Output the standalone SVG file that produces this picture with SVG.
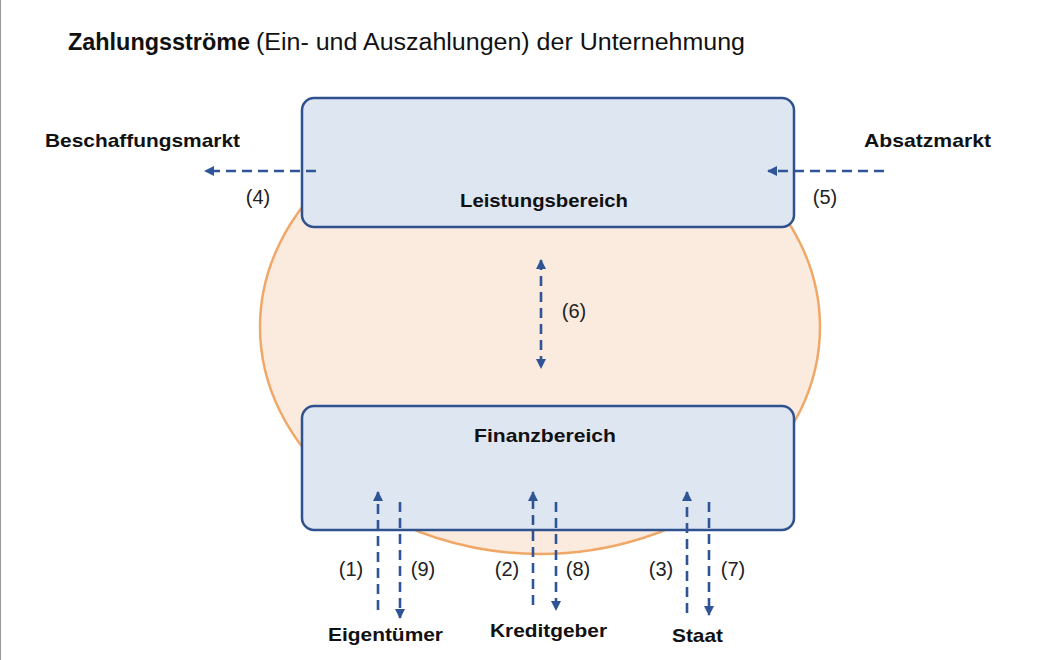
<svg xmlns="http://www.w3.org/2000/svg" width="1052" height="660" viewBox="0 0 1052 660">
<defs>
<style>
.t{font-family:"Liberation Sans",Arial,sans-serif;fill:#111}
.b{font-weight:bold;font-size:19px}
.n{font-size:20px;fill:#222}
.box{fill:#DEE6F2;stroke:#2F528F;stroke-width:2.5}
.flow{fill:none;stroke:#2F5597;stroke-width:2.6;stroke-dasharray:10 6}
</style>
<marker id="ah" viewBox="0 0 10 10" refX="9" refY="5" markerWidth="10" markerHeight="10" markerUnits="userSpaceOnUse" orient="auto-start-reverse">
<path d="M0,0 L10,5 L0,10 z" fill="#2F5597"/>
</marker>
</defs>
<rect width="1052" height="660" fill="#fff"/>
<line x1="0.5" y1="0" x2="0.5" y2="660" stroke="#999" stroke-width="1"/>
<g id="title">
<text class="t" x="68" y="50" font-size="23" font-weight="bold" textLength="182" lengthAdjust="spacingAndGlyphs">Zahlungsströme</text>
<text class="t" x="256" y="50" font-size="23" textLength="489" lengthAdjust="spacingAndGlyphs">(Ein- und Auszahlungen) der Unternehmung</text>
</g>
<g id="unternehmung">
<ellipse cx="540" cy="327" rx="280" ry="227" fill="#FBEBDF" stroke="#F0A868" stroke-width="2.5"/>
</g>
<g id="leistungsbereich">
<rect class="box" x="302" y="98" width="492" height="129" rx="12"/>
<text class="t b" x="460" y="207" textLength="168" lengthAdjust="spacingAndGlyphs">Leistungsbereich</text>
</g>
<g id="finanzbereich">
<rect class="box" x="302" y="406" width="492" height="124" rx="12"/>
<text class="t b" x="474" y="442" textLength="142" lengthAdjust="spacingAndGlyphs">Finanzbereich</text>
</g>
<g id="beschaffungsmarkt">
<text class="t b" x="45" y="147" textLength="195" lengthAdjust="spacingAndGlyphs">Beschaffungsmarkt</text>
</g>
<g id="absatzmarkt">
<text class="t b" x="864" y="147" textLength="127" lengthAdjust="spacingAndGlyphs">Absatzmarkt</text>
</g>
<g id="eigentuemer">
<text class="t b" x="328" y="641" textLength="115" lengthAdjust="spacingAndGlyphs">Eigentümer</text>
</g>
<g id="kreditgeber">
<text class="t b" x="490" y="637" textLength="117" lengthAdjust="spacingAndGlyphs">Kreditgeber</text>
</g>
<g id="staat">
<text class="t b" x="672" y="642" textLength="51" lengthAdjust="spacingAndGlyphs">Staat</text>
</g>
<g id="connectors">
<path class="flow" d="M316,171 H205" marker-end="url(#ah)"/>
<path class="flow" d="M884,171 H768" marker-end="url(#ah)"/>
<path class="flow" d="M541,260 V368" marker-start="url(#ah)" marker-end="url(#ah)"/>
<path class="flow" d="M378,610 V492" marker-end="url(#ah)"/>
<path class="flow" d="M400,502 V618" marker-end="url(#ah)"/>
<path class="flow" d="M533,605 V492" marker-end="url(#ah)"/>
<path class="flow" d="M556,502 V610" marker-end="url(#ah)"/>
<path class="flow" d="M687,613 V492" marker-end="url(#ah)"/>
<path class="flow" d="M709,502 V615" marker-end="url(#ah)"/>
<text class="t n" x="258" y="204" text-anchor="middle">(4)</text>
<text class="t n" x="825" y="204" text-anchor="middle">(5)</text>
<text class="t n" x="574" y="318" text-anchor="middle">(6)</text>
<text class="t n" x="351" y="576" text-anchor="middle">(1)</text>
<text class="t n" x="423" y="576" text-anchor="middle">(9)</text>
<text class="t n" x="507" y="576" text-anchor="middle">(2)</text>
<text class="t n" x="578" y="576" text-anchor="middle">(8)</text>
<text class="t n" x="661" y="576" text-anchor="middle">(3)</text>
<text class="t n" x="733" y="576" text-anchor="middle">(7)</text>
</g>
</svg>
